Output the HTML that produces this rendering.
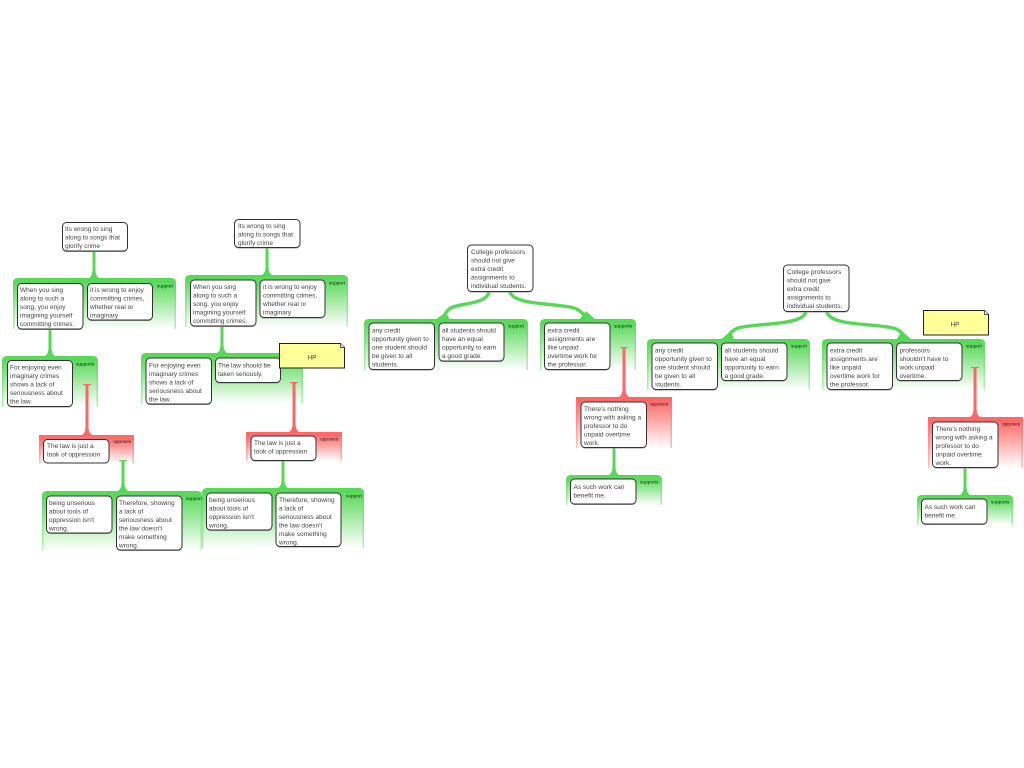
<!DOCTYPE html>
<html><head><meta charset="utf-8"><style>
html,body{margin:0;padding:0;background:#fff}
svg{display:block;filter:blur(.3px)}
text{font-family:"Liberation Sans",sans-serif;font-size:6.5px;fill:#444}
.l{font-size:4.8px;fill:#222}
.b{fill:#fff;stroke:#333;stroke-width:1}
.s{fill:#999}
.g{fill:url(#gs)}.gi{fill:url(#gf)}
.r{fill:url(#rs)}.ri{fill:url(#rf)}
.cg{fill:#55d955}.cr{fill:#ff6666}
.cp{fill:none;stroke:#55d955;stroke-width:3.4}
.tg{stroke:#55d955;stroke-width:1;fill:none}.tr{stroke:#ff6666;stroke-width:1;fill:none}
.n{fill:#ffff99;stroke:#222;stroke-width:1}
</style></head><body>
<svg width="1024" height="768" viewBox="0 0 1024 768" xmlns="http://www.w3.org/2000/svg">
<defs>
<linearGradient id="gs" x1="0" y1="0" x2="0" y2="1"><stop offset="0" stop-color="#55d955"/><stop offset="1" stop-color="#b8f0b8"/></linearGradient>
<linearGradient id="gf" x1="0" y1="0" x2="0" y2="1"><stop offset="0" stop-color="#55d955"/><stop offset="1" stop-color="#ffffff"/></linearGradient>
<linearGradient id="rs" x1="0" y1="0" x2="0" y2="1"><stop offset="0" stop-color="#ff6666"/><stop offset="1" stop-color="#ffc0c0"/></linearGradient>
<linearGradient id="rf" x1="0" y1="0" x2="0" y2="1"><stop offset="0" stop-color="#ff6666"/><stop offset="1" stop-color="#ffffff"/></linearGradient>
</defs>

<!-- groups -->
<path class="g" d="M13,329V283Q13,278 18,278H171Q176,278 176,283V329Z"/><rect class="gi" x="14.5" y="281" width="160" height="48"/>
<path class="g" d="M2,407V361Q2,356 7,356H93Q98,356 98,361V407Z"/><rect class="gi" x="3.5" y="359" width="93" height="48"/>
<rect class="r" x="39" y="435" width="95" height="28"/><rect class="ri" x="40.5" y="438" width="92" height="25"/>
<path class="g" d="M42,550V496Q42,491 47,491H197Q202,491 202,496V550Z"/><rect class="gi" x="43.5" y="494" width="157" height="56"/>

<path class="g" d="M185,327V280Q185,275 190,275H343Q348,275 348,280V327Z"/><rect class="gi" x="186.500" y="278" width="160" height="49"/>
<path class="g" d="M141,404V358Q141,353 146,353H298Q303,353 303,358V404Z"/><rect class="gi" x="142.500" y="356" width="159" height="48"/>
<rect class="r" x="246" y="432" width="96" height="29"/><rect class="ri" x="247.500" y="435" width="93" height="26"/>
<path class="g" d="M202,548V493Q202,488 207,488H359Q364,488 364,493V548Z"/><rect class="gi" x="203.500" y="491" width="159" height="57"/>

<path class="g" d="M364,370V324Q364,319 369,319H523Q528,319 528,324V370Z"/><rect class="gi" x="365.500" y="322" width="161" height="48"/>
<path class="g" d="M540,370V324Q540,319 545,319H631Q636,319 636,324V370Z"/><rect class="gi" x="541.500" y="322" width="93" height="48"/>
<rect class="r" x="576" y="397" width="96" height="51"/><rect class="ri" x="577.500" y="400" width="93" height="48"/>
<path class="g" d="M566,505V480Q566,475 571,475H657Q662,475 662,480V505Z"/><rect class="gi" x="567.500" y="478" width="93" height="27"/>

<path class="g" d="M647,390V344Q647,339 652,339H805Q810,339 810,344V390Z"/><rect class="gi" x="648.500" y="342" width="160" height="48"/>
<path class="g" d="M822,390V344Q822,339 827,339H980Q985,339 985,344V390Z"/><rect class="gi" x="823.500" y="342" width="160" height="48"/>
<rect class="r" x="928" y="417" width="95" height="51"/><rect class="ri" x="929.500" y="420" width="92" height="48"/>
<path class="g" d="M917,525V500Q917,495 922,495H1008Q1013,495 1013,500V525Z"/><rect class="gi" x="918.500" y="498" width="93" height="27"/>

<!-- connectors -->
<path class="cg" d="M92.500,251h3v19q0 7 5.500 9h-14q5.500 -2 5.500 -9z"/>
<path class="cg" d="M48.500,329h3v19q0 7 5.500 9h-14q5.500 -2 5.500 -9z"/>
<path class="cr" d="M85.500,384h3v43q0 7 5.500 9h-14q5.500 -2 5.500 -9z"/>
<path class="tr" d="M83,384.500h8"/>
<path class="cg" d="M121.500,460h3v23q0 7 5.500 9h-14q5.500 -2 5.500 -9z"/>
<path class="tg" d="M119,460.500h8"/>

<path class="cg" d="M265.500,248h3v19q0 7 5.500 9h-14q5.500 -2 5.500 -9z"/>
<path class="cg" d="M220.500,326h3v19q0 7 5.500 9h-14q5.500 -2 5.500 -9z"/>
<path class="cr" d="M292.500,382h3v42q0 7 5.500 9h-14q5.500 -2 5.500 -9z"/>
<path class="tr" d="M290,382.500h8"/>
<path class="cg" d="M281.500,461h3v19q0 7 5.500 9h-14q5.500 -2 5.500 -9z"/>

<path class="cr" d="M622.500,347h3v42q0 7 5.500 9h-14q5.500 -2 5.500 -9z"/>
<path class="tr" d="M620,347.500h8"/>
<path class="cg" d="M612.500,448h3v19q0 7 5.500 9h-14q5.500 -2 5.500 -9z"/>

<path class="cr" d="M973.500,367h3v42q0 7 5.500 9h-14q5.500 -2 5.500 -9z"/>
<path class="tr" d="M971,367.500h8"/>
<path class="cg" d="M963.500,468h3v19q0 7 5.500 9h-14q5.500 -2 5.500 -9z"/>

<path class="cp" d="M489,292C487,303 465,303 453,307C445,310 445,317 440,320"/>
<path class="cg" d="M435,320H450L446,312Z"/>
<path class="cp" d="M510,292C514,304 545,303 570,307C582,309 583,316 590,320"/>
<path class="cg" d="M579,320H596L586,311Z"/>
<path class="cp" d="M806,312C802,326 755,323 738,328C730,331 729,336 725,340"/>
<path class="cg" d="M720,340H734L731,331Z"/>
<path class="cp" d="M827,312C831,326 870,323 893,328C902,330 903,336 907,340"/>
<path class="cg" d="M896,340H912L902,331Z"/>

<!-- boxes: shadow + box -->
<rect class="s" x="62.500" y="223.500" width="65" height="28.500" rx="4"/><rect class="b" x="62.500" y="222.500" width="65" height="28.500" rx="4"/>
<text x="65" y="231">Its wrong to sing</text><text x="65" y="239.500">along to songs that</text><text x="65" y="248">glorify crime</text>

<rect class="s" x="17.500" y="284.500" width="65.500" height="45.500" rx="4"/><rect class="b" x="17.500" y="283.500" width="65.500" height="45.500" rx="4"/>
<text x="20" y="292">When you sing</text><text x="20" y="300.500">along to such a</text><text x="20" y="309">song, you enjoy</text><text x="20" y="317.500">imagining yourself</text><text x="20" y="326">committing crimes.</text>

<rect class="s" x="87.500" y="284.500" width="65" height="36.500" rx="4"/><rect class="b" x="87.500" y="283.500" width="65" height="36.500" rx="4"/>
<text x="90" y="292">it is wrong to enjoy</text><text x="90" y="300.500">committing crimes,</text><text x="90" y="309">whether real or</text><text x="90" y="317.500">imaginary</text>

<rect class="s" x="7.500" y="361.500" width="65" height="46" rx="4"/><rect class="b" x="7.500" y="360.500" width="65" height="46" rx="4"/>
<text x="10" y="369.500">For enjoying even</text><text x="10" y="378">imaginary crimes</text><text x="10" y="386.500">shows a lack of</text><text x="10" y="395">seriousness about</text><text x="10" y="403.500">the law.</text>

<rect class="s" x="43.500" y="440" width="65.500" height="23.500" rx="4"/><rect class="b" x="43.500" y="439.500" width="65.500" height="23.500" rx="4"/>
<text x="47" y="448">The law is just a</text><text x="47" y="456.500">took of oppression</text>

<rect class="s" x="46.500" y="497" width="65.500" height="37" rx="4"/><rect class="b" x="46.500" y="496" width="65.500" height="37" rx="4"/>
<text x="49" y="505">being unserious</text><text x="49" y="513.500">about tools of</text><text x="49" y="522">oppression isn't</text><text x="49" y="530.500">wrong.</text>

<rect class="s" x="116.500" y="497" width="65.500" height="54" rx="4"/><rect class="b" x="116.500" y="496" width="65.500" height="54" rx="4"/>
<text x="119" y="505">Therefore, showing</text><text x="119" y="513.500">a lack of</text><text x="119" y="522">seriousness about</text><text x="119" y="530.500">the law doesn't</text><text x="119" y="539">make something</text><text x="119" y="547.500">wrong.</text>

<rect class="s" x="234.500" y="220.500" width="65.500" height="28" rx="4"/><rect class="b" x="234.500" y="219.500" width="65.500" height="28" rx="4"/>
<text x="238" y="228">Its wrong to sing</text><text x="238" y="236.500">along to songs that</text><text x="238" y="245">glorify crime</text>

<rect class="s" x="190.500" y="281" width="65.500" height="46" rx="4"/><rect class="b" x="190.500" y="280" width="65.500" height="46" rx="4"/>
<text x="193" y="289">When you sing</text><text x="193" y="297.500">along to such a</text><text x="193" y="306">song, you enjoy</text><text x="193" y="314.500">imagining yourself</text><text x="193" y="323">committing crimes.</text>

<rect class="s" x="260" y="281" width="65" height="37.500" rx="4"/><rect class="b" x="260" y="280" width="65" height="37.500" rx="4"/>
<text x="263" y="289">it is wrong to enjoy</text><text x="263" y="297.500">committing crimes,</text><text x="263" y="306">whether real or</text><text x="263" y="314.500">imaginary</text>

<rect class="s" x="146" y="359" width="65.500" height="46" rx="4"/><rect class="b" x="146" y="358" width="65.500" height="46" rx="4"/>
<text x="149" y="367.500">For enjoying even</text><text x="149" y="376">imaginary crimes</text><text x="149" y="384.500">shows a lack of</text><text x="149" y="393">seriousness about</text><text x="149" y="401.500">the law.</text>

<rect class="s" x="215.500" y="359" width="65" height="24.500" rx="4"/><rect class="b" x="215.500" y="358" width="65" height="24.500" rx="4"/>
<text x="218" y="367.500">The law should be</text><text x="218" y="376">taken seriously.</text>

<rect class="s" x="251" y="437" width="65" height="24.500" rx="4"/><rect class="b" x="251" y="436" width="65" height="24.500" rx="4"/>
<text x="254" y="445">The law is just a</text><text x="254" y="453.500">took of oppression</text>

<rect class="s" x="206.500" y="494" width="65.500" height="37" rx="4"/><rect class="b" x="206.500" y="493" width="65.500" height="37" rx="4"/>
<text x="209" y="502">being unserious</text><text x="209" y="510.500">about tools of</text><text x="209" y="519">oppression isn't</text><text x="209" y="527.500">wrong.</text>

<rect class="s" x="276" y="494" width="65" height="53.500" rx="4"/><rect class="b" x="276" y="493" width="65" height="53.500" rx="4"/>
<text x="279" y="502">Therefore, showing</text><text x="279" y="510.500">a lack of</text><text x="279" y="519">seriousness about</text><text x="279" y="527.500">the law doesn't</text><text x="279" y="536">make something</text><text x="279" y="544.500">wrong.</text>

<rect class="s" x="467.500" y="246" width="65.500" height="46.500" rx="4"/><rect class="b" x="467.500" y="245" width="65.500" height="46.500" rx="4"/>
<text x="471" y="254">College professors</text><text x="471" y="262.500">should not give</text><text x="471" y="271">extra credit</text><text x="471" y="279.500">assignments to</text><text x="471" y="288">individual students.</text>

<rect class="s" x="369" y="324" width="65.500" height="46.500" rx="4"/><rect class="b" x="369" y="323" width="65.500" height="46.500" rx="4"/>
<text x="372" y="332.500">any credit</text><text x="372" y="341">opportunity given to</text><text x="372" y="349.500">one student should</text><text x="372" y="358">be given to all</text><text x="372" y="366.500">students.</text>

<rect class="s" x="439" y="324" width="65" height="38" rx="4"/><rect class="b" x="439" y="323" width="65" height="38" rx="4"/>
<text x="442" y="332.500">all students should</text><text x="442" y="341">have an equal</text><text x="442" y="349.500">opportunity to earn</text><text x="442" y="358">a good grade.</text>

<rect class="s" x="544.500" y="324" width="65.500" height="46.500" rx="4"/><rect class="b" x="544.500" y="323" width="65.500" height="46.500" rx="4"/>
<text x="547.500" y="332.500">extra credit</text><text x="547.500" y="341">assignments are</text><text x="547.500" y="349.500">like unpaid</text><text x="547.500" y="358">overtime work for</text><text x="547.500" y="366.500">the professor.</text>

<rect class="s" x="581" y="403" width="65.500" height="45.500" rx="4"/><rect class="b" x="581" y="402" width="65.500" height="45.500" rx="4"/>
<text x="584" y="411">There's nothing</text><text x="584" y="419.500">wrong with asking a</text><text x="584" y="428">professor to do</text><text x="584" y="436.500">unpaid overtime</text><text x="584" y="445">work.</text>

<rect class="s" x="570.500" y="480" width="65.500" height="25" rx="4"/><rect class="b" x="570.500" y="479" width="65.500" height="25" rx="4"/>
<text x="573.500" y="489">As such work can</text><text x="573.500" y="497.500">benefit me.</text>

<rect class="s" x="783.500" y="266" width="65.500" height="46.500" rx="4"/><rect class="b" x="783.500" y="265" width="65.500" height="46.500" rx="4"/>
<text x="787" y="274">College professors</text><text x="787" y="282.500">should not give</text><text x="787" y="291">extra credit</text><text x="787" y="299.500">assignments to</text><text x="787" y="308">individual students.</text>

<rect class="s" x="652" y="344" width="65.500" height="46.500" rx="4"/><rect class="b" x="652" y="343" width="65.500" height="46.500" rx="4"/>
<text x="655" y="352.500">any credit</text><text x="655" y="361">opportunity given to</text><text x="655" y="369.500">one student should</text><text x="655" y="378">be given to all</text><text x="655" y="386.500">students.</text>

<rect class="s" x="721.500" y="344" width="65.500" height="37.500" rx="4"/><rect class="b" x="721.500" y="343" width="65.500" height="37.500" rx="4"/>
<text x="724.500" y="352.500">all students should</text><text x="724.500" y="361">have an equal</text><text x="724.500" y="369.500">opportunity to earn</text><text x="724.500" y="378">a good grade.</text>

<rect class="s" x="827" y="344" width="65.500" height="46.500" rx="4"/><rect class="b" x="827" y="343" width="65.500" height="46.500" rx="4"/>
<text x="830" y="352.500">extra credit</text><text x="830" y="361">assignments are</text><text x="830" y="369.500">like unpaid</text><text x="830" y="378">overtime work for</text><text x="830" y="386.500">the professor.</text>

<rect class="s" x="896.500" y="344" width="65.500" height="37.500" rx="4"/><rect class="b" x="896.500" y="343" width="65.500" height="37.500" rx="4"/>
<text x="899.500" y="352.500">professors</text><text x="899.500" y="361">shouldn't have to</text><text x="899.500" y="369.500">work unpaid</text><text x="899.500" y="378">overtime.</text>

<rect class="s" x="932.500" y="423" width="65.500" height="45.500" rx="4"/><rect class="b" x="932.500" y="422" width="65.500" height="45.500" rx="4"/>
<text x="935.500" y="431">There's nothing</text><text x="935.500" y="439.500">wrong with asking a</text><text x="935.500" y="448">professor to do</text><text x="935.500" y="456.500">unpaid overtime</text><text x="935.500" y="465">work.</text>

<rect class="s" x="921.500" y="500" width="65.500" height="25" rx="4"/><rect class="b" x="921.500" y="499" width="65.500" height="25" rx="4"/>
<text x="924.500" y="509">As such work can</text><text x="924.500" y="517.500">benefit me.</text>

<!-- relation labels -->
<text class="l" x="157" y="287.500">support</text>
<text class="l" x="76" y="365.500">supports</text>
<text class="l" x="113" y="443">opposes</text>
<text class="l" x="186" y="500">support</text>
<text class="l" x="329" y="284.500">support</text>
<text class="l" x="320" y="440.500">opposes</text>
<text class="l" x="346" y="497.500">support</text>
<text class="l" x="508" y="327.500">support</text>
<text class="l" x="614" y="327.500">supports</text>
<text class="l" x="650" y="405.500">opposes</text>
<text class="l" x="640" y="483.500">supports</text>
<text class="l" x="791" y="347.500">support</text>
<text class="l" x="966" y="347.500">support</text>
<text class="l" x="1002" y="425.500">opposes</text>
<text class="l" x="991" y="503.500">supports</text>

<!-- notes -->
<path class="n" d="M279.500,343.500H340.500L344.500,347.500V368H279.500Z"/><path d="M340.500,343.500V347.500H344.500" fill="#fff" stroke="#222" stroke-width=".7"/>
<text x="312" y="359.500" text-anchor="middle">HP</text>
<path class="n" d="M923.500,310.500H984.500L988.500,314.500V335H923.500Z"/><path d="M984.500,310.500V314.500H988.500" fill="#fff" stroke="#222" stroke-width=".7"/>
<text x="955" y="326.500" text-anchor="middle">HP</text>
</svg>
</body></html>
